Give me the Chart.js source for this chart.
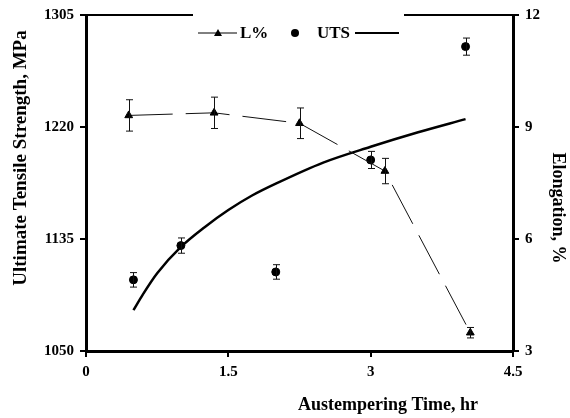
<!DOCTYPE html>
<html>
<head>
<meta charset="utf-8">
<script src="https://cdn.jsdelivr.net/npm/chart.js@4.4.1/dist/chart.umd.min.js"></script>
<style>
  html, body { margin: 0; padding: 0; background: #fff; }
  canvas { display: block; }
</style>
</head>
<body>
<canvas id="chart" width="570" height="418"></canvas>
<script>
/* ── Data ───────────────────────────────────────────────────────────── */

const utsTime   = [0.5, 1.0, 2.0, 3.0, 4.0];
const utsValues = [1104, 1130, 1110, 1195, 1281];
const utsErr    = [5.5, 5.8, 5.5, 6.5, 6.5];

const elongTime   = [0.45, 1.35, 2.25, 3.15, 4.05];
const elongValues = [9.31, 9.38, 9.10, 7.82, 3.49];
const elongErr    = [0.42, 0.42, 0.41, 0.34, 0.14];

const fitTime = [0.5, 0.6, 0.75, 1.0, 1.25, 1.5, 1.75, 2.0, 2.5, 3.0, 3.5, 4.0];
const fitUts  = [1081, 1093, 1109, 1129, 1144, 1157, 1168, 1177, 1193, 1205, 1216, 1226];

const xTicks     = [0, 1.5, 3, 4.5];
const utsTicks   = [1050, 1135, 1220, 1305];
const elongTicks = [3, 6, 9, 12];

const FONT = "'Liberation Serif', 'Times New Roman', serif";

const pts = (xs, ys) => xs.map((x, i) => ({ x, y: ys[i] }));

// ── Error bars ────────────────────────────────────────────────────────────

const errorBars = {
  id: 'errorBars',
  afterDatasetsDraw(chart) {
    const ctx = chart.ctx;
    const sets = [
      { xs: utsTime, ys: utsValues, es: utsErr, axis: 'y' },
      { xs: elongTime, ys: elongValues, es: elongErr, axis: 'y2' },
    ];
    ctx.save();
    ctx.strokeStyle = '#111';
    ctx.lineWidth = 1;
    sets.forEach(s => {
      const sy = chart.scales[s.axis], sx = chart.scales.x;
      s.xs.forEach((t, i) => {
        const px = Math.round(sx.getPixelForValue(t)) + 0.5;
        const top = sy.getPixelForValue(s.ys[i] + s.es[i]);
        const bot = sy.getPixelForValue(s.ys[i] - s.es[i]);
        ctx.beginPath();
        ctx.moveTo(px, top); ctx.lineTo(px, bot);
        ctx.moveTo(px - 3.5, top); ctx.lineTo(px + 3.5, top);
        ctx.moveTo(px - 3.5, bot); ctx.lineTo(px + 3.5, bot);
        ctx.stroke();
      });
    });
    ctx.restore();
  }
};

// ── Frame, legend and axis titles ────────────────────────────────────────

const decorations = {
  id: 'decorations',
  afterDraw(chart) {
    const ctx = chart.ctx;
    const a = chart.chartArea;
    ctx.save();

    // top border, broken by the legend
    ctx.strokeStyle = '#000';
    ctx.lineWidth = 2;
    ctx.beginPath();
    ctx.moveTo(a.left, a.top); ctx.lineTo(193, a.top);
    ctx.moveTo(404, a.top);    ctx.lineTo(a.right, a.top);
    ctx.stroke();

    // legend
    const ly = 33;
    ctx.lineWidth = 1;
    ctx.beginPath(); ctx.moveTo(198, ly); ctx.lineTo(237, ly); ctx.stroke();
    ctx.fillStyle = '#000';
    ctx.beginPath();
    ctx.moveTo(218, ly - 4); ctx.lineTo(222, ly + 3); ctx.lineTo(214, ly + 3);
    ctx.closePath(); ctx.fill();
    ctx.beginPath(); ctx.arc(295, ly, 4, 0, Math.PI * 2); ctx.fill();
    ctx.lineWidth = 2;
    ctx.beginPath(); ctx.moveTo(355, ly); ctx.lineTo(399, ly); ctx.stroke();

    ctx.font = `bold 17px ${FONT}`;
    ctx.textBaseline = 'middle';
    ctx.textAlign = 'left';
    ctx.fillText('L%', 240, ly + 1);
    ctx.fillText('UTS', 317, ly + 1);

    // axis titles
    ctx.font = `bold 18px ${FONT}`;
    ctx.textAlign = 'center';
    ctx.fillText('Austempering Time, hr', 388, 405);

    ctx.save();
    ctx.translate(558, 208);
    ctx.rotate(Math.PI / 2);
    ctx.fillText('Elongation, %', 0, 0);
    ctx.restore();

    ctx.font = `bold 19px ${FONT}`;
    ctx.save();
    ctx.translate(21, 158);
    ctx.rotate(-Math.PI / 2);
    ctx.fillText('Ultimate Tensile Strength, MPa', 0, 0);
    ctx.restore();

    ctx.restore();
  }
};

// ── Chart ────────────────────────────────────────────────────────────────

const tickFont = { family: FONT, size: 15, weight: 'bold' };

function axisBase(ticks) {
  return {
    ticks: { color: '#000', font: tickFont, autoSkip: false, padding: 6,
             callback: v => String(v) },
    grid: { drawOnChartArea: false, color: '#000', tickLength: 6, lineWidth: 2 },
    border: { display: true, color: '#000', width: 3 },
    afterBuildTicks: s => { s.ticks = ticks.map(v => ({ value: v })); },
  };
}

new Chart(document.getElementById('chart'), {
  type: 'line',
  data: {
    datasets: [
      {
        label: 'L%',
        data: pts(elongTime, elongValues),
        yAxisID: 'y2',
        borderColor: '#111',
        borderWidth: 1,
        borderDash: [44, 13],
        pointStyle: 'triangle',
        pointRadius: 4.5,
        pointBackgroundColor: '#000',
        pointBorderColor: '#000',
        tension: 0,
      },
      {
        label: 'UTS',
        data: pts(utsTime, utsValues),
        yAxisID: 'y',
        showLine: false,
        pointStyle: 'circle',
        pointRadius: 4,
        pointBackgroundColor: '#000',
        pointBorderColor: '#000',
      },
      {
        label: 'fit',
        data: pts(fitTime, fitUts),
        yAxisID: 'y',
        borderColor: '#000',
        borderWidth: 2.5,
        pointRadius: 0,
        cubicInterpolationMode: 'monotone',
      },
    ],
  },
  options: {
    responsive: false,
    animation: false,
    devicePixelRatio: 1,
    layout: { padding: { top: 15, left: 0, right: 0, bottom: 0 } },
    plugins: { legend: { display: false }, tooltip: { enabled: false } },
    scales: {
      x: {
        type: 'linear', min: 0, max: 4.5,
        ...axisBase(xTicks),
        afterFit: s => { s.height = 67; },
      },
      y: {
        type: 'linear', position: 'left', min: 1050, max: 1305,
        ...axisBase(utsTicks),
        afterFit: s => { s.width = 86; },
      },
      y2: {
        type: 'linear', position: 'right', min: 3, max: 12,
        ...axisBase(elongTicks),
        afterFit: s => { s.width = 57; },
      },
    },
  },
  plugins: [errorBars, decorations],
});
</script>
</body>
</html>
